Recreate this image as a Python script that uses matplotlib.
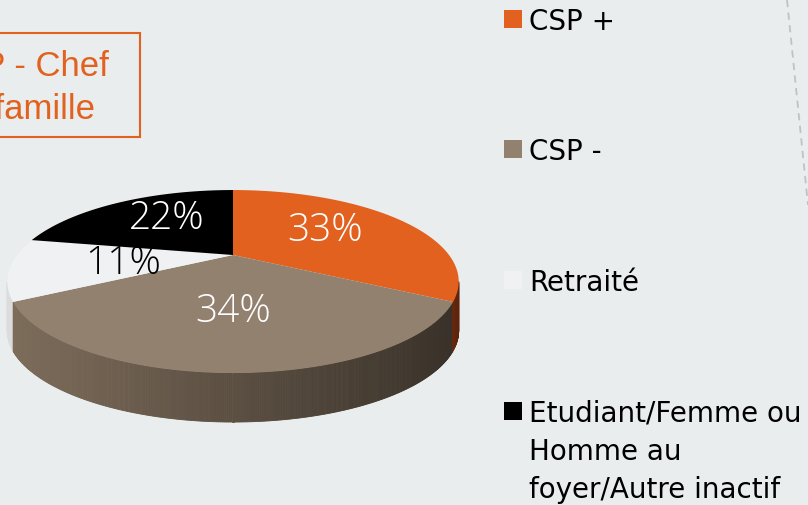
import numpy as np
import matplotlib.pyplot as plt
from matplotlib.patches import Rectangle, Polygon
from matplotlib.colors import to_rgb

categories = ['CSP +', 'CSP -', 'Retraité', 'Etudiant/Femme ou\nHomme au\nfoyer/Autre inactif']
values = [33, 34, 11, 22]
labels = ['33%', '34%', '11%', '22%']
colors = ['#e2611f', '#938170', '#eff1f2', '#000000']
side_colors = ['#8c3812', '#7e6d5b', '#dcdcdc', '#000000']
label_colors = ['white', 'white', 'black', 'white']
title = 'CSP - Chef\nde famille'

bg = '#e9edee'

fig = plt.figure(figsize=(8.08, 5.05), dpi=100, facecolor=bg)
ax = fig.add_axes([0, 0, 1, 1])
ax.set_xlim(0, 808)
ax.set_ylim(505, 0)
ax.axis('off')
ax.set_facecolor(bg)

# perspective projection of the pie disc
xc, yc = 233, 255
K, p = 83.8, 0.29
K2 = 216.0
depth = 49


def proj(t):
    u, v = np.cos(t), np.sin(t)
    w = 1 + p * v
    return xc + K2 * u / w, yc - K * v / w


fr = np.array(values) / float(sum(values))
starts = np.pi / 2 - 2 * np.pi * np.concatenate([[0], np.cumsum(fr)[:-1]])
ends = starts - 2 * np.pi * fr

# side (visible front part)
t_left = np.pi + np.arcsin(p)
t_right = 2 * np.pi - np.arcsin(p)
ts = np.linspace(t_left, t_right, 400)
xs_all, _ = proj(ts)
xmin, xmax = xs_all.min(), xs_all.max()


def wedge_of(t):
    # angle measured clockwise from top
    a = (np.pi / 2 - t) % (2 * np.pi)
    c = np.cumsum(fr) * 2 * np.pi
    return int(np.searchsorted(c, a))


for i in range(len(ts) - 1):
    tm = 0.5 * (ts[i] + ts[i + 1])
    k = wedge_of(tm)
    x0, y0 = proj(ts[i])
    x1, y1 = proj(ts[i + 1])
    s = (0.5 * (x0 + x1) - xmin) / (xmax - xmin)
    base = np.array(to_rgb(side_colors[k]))
    if k == 1:
        f = 1.0 - 0.55 * s
    elif k == 0:
        f = 1.0 - 0.35 * max(0, (s - 0.95) / 0.05)
    else:
        f = 1.0 - 0.1 * s
    col = np.clip(base * f, 0, 1)
    ax.add_patch(Polygon([(x0, y0), (x1, y1), (x1, y1 + depth), (x0, y0 + depth)],
                         closed=True, facecolor=col, edgecolor=col, linewidth=0.6))

# top faces
for k in range(len(values)):
    tt = np.linspace(starts[k], ends[k], 200)
    px, py = proj(tt)
    pts = np.column_stack([np.r_[xc, px], np.r_[yc, py]])
    ax.add_patch(Polygon(pts, closed=True, facecolor=colors[k], edgecolor='none'))

# percentage labels
lab_pos = [(325, 231), (233, 312), (123, 264), (167, 219)]
for k in range(len(values)):
    ax.text(lab_pos[k][0], lab_pos[k][1], labels[k], color=label_colors[k],
            fontsize=28, family='Open Sans', fontweight='light', ha='center', va='center')

# title box (partly cut off at the left)
ax.add_patch(Rectangle((-98, 33), 238, 104, facecolor='none', edgecolor='#e2611f',
                       linewidth=1.5, clip_on=False))
ax.text(21, 88, title, color='#e2611f', fontsize=25, family='Liberation Sans',
        ha='center', va='center', linespacing=1.4)

# legend
leg_y = [19, 149, 280, 411]
for k in range(len(categories)):
    ax.add_patch(Rectangle((504, leg_y[k] - 9), 18, 18, facecolor=colors[k], edgecolor='none'))
    ax.text(529, leg_y[k] - 11, categories[k], fontsize=20, family='DejaVu Sans',
            ha='left', va='top', linespacing=1.45, color='black')

# decorative dashed line
ax.plot([787, 808], [0, 205], color='#c0c2c4', linestyle=(0, (4, 3)), linewidth=1.3)

fig.savefig('out.png', dpi=100, facecolor=bg)
